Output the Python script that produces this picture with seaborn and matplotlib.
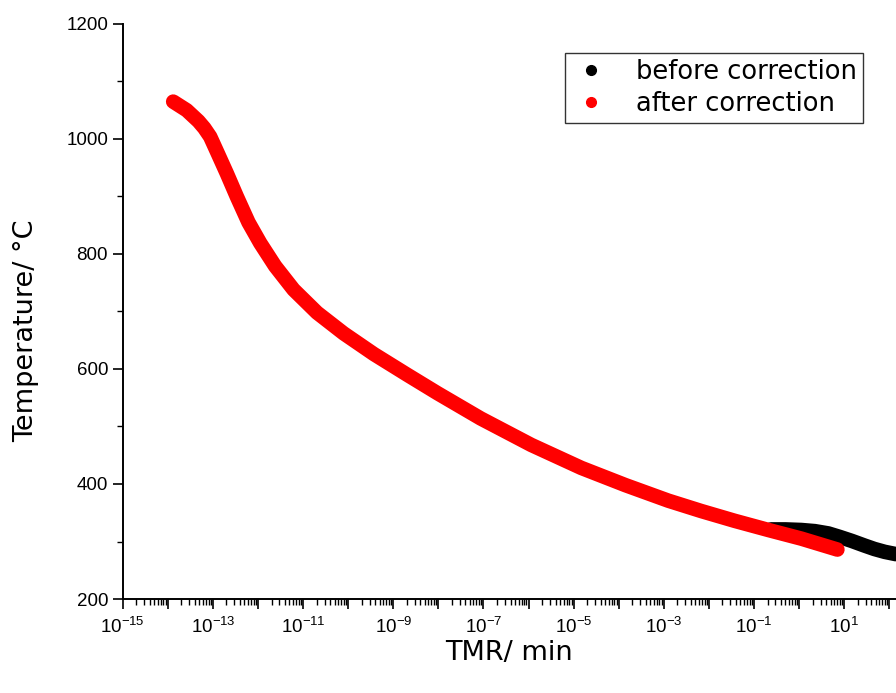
import numpy as np
import pandas as pd
import matplotlib
matplotlib.use("Agg")
import matplotlib.pyplot as plt
import matplotlib.ticker as mticker
from matplotlib.lines import Line2D
import seaborn as sns

# values (log10 of TMR in min, temperature in degC)
after_log_tmr = [-13.88, -13.58, -13.32, -13.19, -13.06, -12.99, -12.88, -12.69,
                 -12.47, -12.21, -11.95, -11.62, -11.21, -10.69, -10.10, -9.43,
                 -8.69, -8.02, -7.06, -5.94, -4.83, -3.85, -2.90, -2.17,
                 -1.43, -0.68, 0.05, 0.85]
after_temp = [1065, 1050, 1031, 1019, 1004, 992, 973, 940,
              900, 855, 819, 779, 738, 698, 662, 626,
              590, 558, 514, 468, 428, 398, 371, 353,
              336, 320, 305, 286]

before_log_tmr = [-0.62, -0.30, 0.05, 0.35, 0.65, 0.90, 1.17, 1.45, 1.67, 1.90, 2.15]
before_temp = [321, 321, 320, 318, 314, 308, 301, 293, 287, 282, 278]

series_labels = ["before correction", "after correction"]
series_colors = ["black", "red"]

y_major = [200, 400, 600, 800, 1000, 1200]

before = pd.DataFrame({"tmr": np.power(10.0, before_log_tmr), "temp": before_temp})
after = pd.DataFrame({"tmr": np.power(10.0, after_log_tmr), "temp": after_temp})

sns.set_style("white")
plt.rcParams["font.family"] = ["Liberation Sans", "DejaVu Sans"]
plt.rcParams["mathtext.fontset"] = "custom"
plt.rcParams["mathtext.rm"] = "Liberation Sans"
plt.rcParams["mathtext.it"] = "Liberation Sans:italic"
plt.rcParams["mathtext.bf"] = "Liberation Sans:bold"

fig = plt.figure(figsize=(8.96, 6.93), dpi=100)
ax = fig.add_axes([122.7 / 896, 94 / 693, 1 - 122.7 / 896, 575 / 693])

# thick curves made of dense dots
for df, col in zip([before, after], series_colors):
    sns.lineplot(data=df, x="tmr", y="temp", color=col, linewidth=10.5,
                 sort=False, solid_capstyle="round", solid_joinstyle="round", ax=ax)

ax.set_xscale("log")
ax.set_xlim(1e-15, 10 ** 2.15)
ax.set_ylim(200, 1200)

ax.xaxis.set_major_locator(mticker.LogLocator(base=10, numticks=40))
ax.xaxis.set_minor_locator(mticker.LogLocator(base=10, subs=np.arange(2, 10), numticks=400))


def odd_exp(v, pos):
    e = int(round(np.log10(v)))
    if e % 2 == 0:
        return ""
    return r"$\mathdefault{10^{%d}}$" % e


ax.xaxis.set_major_formatter(mticker.FuncFormatter(odd_exp))
ax.xaxis.set_minor_formatter(mticker.NullFormatter())
ax.set_yticks(y_major)
ax.yaxis.set_minor_locator(mticker.MultipleLocator(100))

ax.tick_params(axis="both", which="major", direction="out", length=7, width=1.2,
               labelsize=13.5, color="black", labelcolor="black", bottom=True, left=True)
ax.tick_params(axis="both", which="minor", direction="out", length=4, width=1.0,
               color="black", bottom=True, left=True)
ax.tick_params(axis="x", which="major", pad=6)

for side in ["top", "right"]:
    ax.spines[side].set_visible(False)
for side in ["left", "bottom"]:
    ax.spines[side].set_color("black")
    ax.spines[side].set_linewidth(1.4)

lab_font = ["DejaVu Sans"]
ax.set_xlabel("TMR/ min", fontsize=19.5, family=lab_font, labelpad=2, color="black")
ax.set_ylabel("Temperature/ °C", fontsize=19.5, family=lab_font, color="black")
ax.yaxis.set_label_coords(-0.108, 0.466)

handles = [Line2D([], [], marker="o", linestyle="none", color=c, markersize=7)
           for c in series_colors]
leg = ax.legend(handles, series_labels, loc="upper right",
                bbox_to_anchor=(863 / 896, 1 - 53 / 693), bbox_transform=fig.transFigure,
                borderaxespad=0, frameon=True, fancybox=False, handletextpad=1.0,
                handlelength=1.5, labelspacing=0.2, borderpad=0.25,
                prop={"family": lab_font, "size": 18.5})
leg.get_frame().set_edgecolor("black")
leg.get_frame().set_linewidth(1.0)
for t in leg.get_texts():
    t.set_color("black")

fig.savefig("out.png", dpi=100)
